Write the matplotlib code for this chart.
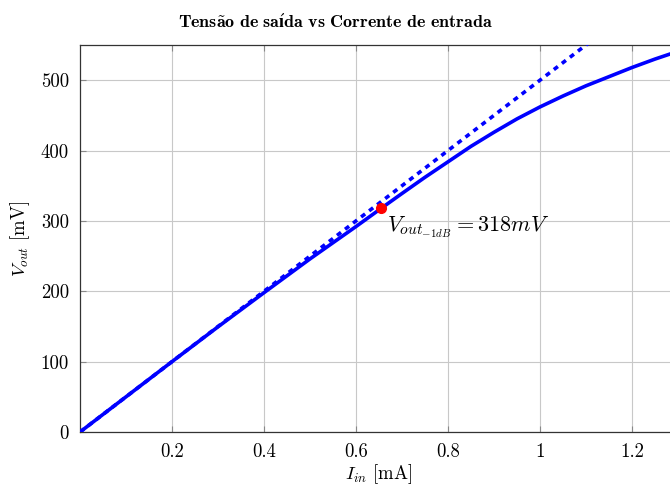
import matplotlib
matplotlib.use("Agg")
import matplotlib.pyplot as plt

plt.rcParams['font.family'] = 'serif'
plt.rcParams['font.serif'] = ['cmr10']
plt.rcParams['mathtext.fontset'] = 'cm'
plt.rcParams['axes.unicode_minus'] = False

# measured output voltage (solid curve)
i_in = [0, 0.1, 0.2, 0.3, 0.4, 0.5, 0.6, 0.655, 0.7, 0.75, 0.8, 0.85, 0.9,
        0.95, 1.0, 1.05, 1.1, 1.15, 1.2, 1.25, 1.3]
v_out = [0, 50, 100, 149.5, 198, 246, 292, 318, 339, 362, 384, 406, 426,
         445, 462, 477.5, 492, 505, 518, 530, 541]

# ideal linear response (dotted)
i_lin = [0, 1.3]
v_lin = [0, 650]

# -1 dB compression point
p1db_i = 0.655
p1db_v = 318

xticks = [0.2, 0.4, 0.6, 0.8, 1.0, 1.2]
xtick_labels = ['0.2', '0.4', '0.6', '0.8', '1', '1.2']
yticks = [0, 100, 200, 300, 400, 500]

fig = plt.figure(figsize=(6.7, 4.87), dpi=100)
ax = fig.add_axes([80/670, 55/487, 598/670, 387/487])

ax.plot(i_lin, v_lin, color='blue', lw=2.6, linestyle=(0, (1.4, 1.4)), zorder=3)
ax.plot(i_in, v_out, color='blue', lw=2.6, zorder=4, solid_joinstyle='round')
ax.plot(p1db_i, p1db_v, 'o', color='red', markersize=7, zorder=5)
ax.text(p1db_i + 0.012, p1db_v - 27, r'$V_{out_{-1dB}} = 318mV$', fontsize=16,
        va='center', ha='left')

ax.set_xlim(0, 1.3)
ax.set_ylim(0, 550)
ax.set_xticks(xticks)
ax.set_xticklabels(xtick_labels)
ax.set_yticks(yticks)
ax.set_yticklabels([str(v) for v in yticks])
ax.grid(True, color='#c8c8c8', lw=0.8)
ax.set_axisbelow(True)
ax.tick_params(direction='in', length=4, color='#888888', labelsize=13.5,
               top=True, right=True, pad=8)
for s in ax.spines.values():
    s.set_linewidth(0.9)
    s.set_color('#333333')

ax.set_xlabel(r'$I_{in}\ [\mathrm{mA}]$', fontsize=13.5, labelpad=1)
ax.set_ylabel(r'$V_{out}\ [\mathrm{mV}]$', fontsize=13.5, labelpad=6)
fig.text(0.5, 0.955, r"$\mathbf{Tens\tilde{a}o\ de\ sa\'{\i}da\ vs\ Corrente\ de\ entrada}$",
         ha='center', va='center', fontsize=13)

fig.savefig('out.png', dpi=100)
